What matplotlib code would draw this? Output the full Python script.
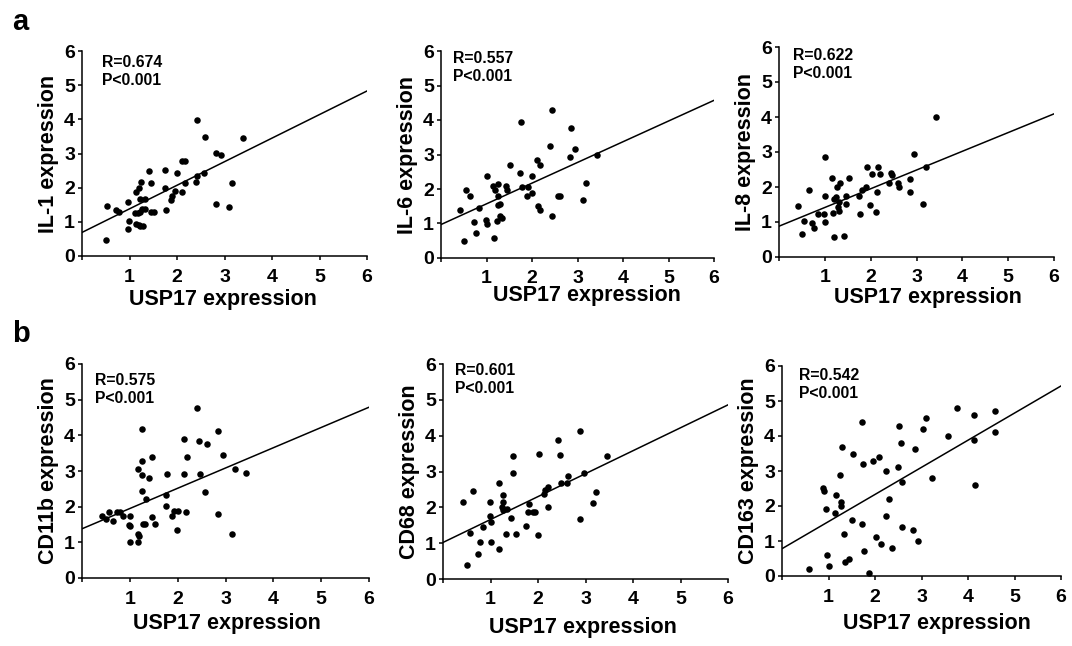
import numpy as np
import matplotlib
matplotlib.use('Agg')
import matplotlib.pyplot as plt

plt.rcParams['font.family'] = ['Liberation Sans', 'DejaVu Sans']
plt.rcParams['font.weight'] = 'bold'

# panel a
il1_x = [0.50, 0.53, 0.72, 0.78, 0.97, 0.99, 0.97, 1.14, 1.19, 1.23, 1.28, 1.11, 1.18, 1.23, 1.26, 1.32,
         1.23, 1.32, 1.14, 1.19, 1.24, 1.40, 1.46, 1.46, 1.52, 1.74, 1.75, 1.76, 1.88, 1.90, 1.96, 2.00,
         2.10, 2.11, 2.17, 2.17, 2.39, 2.43, 2.43, 2.56, 2.58, 2.83, 2.92, 2.83, 3.10, 3.16, 3.39]
il1_y = [0.47, 1.47, 1.34, 1.30, 1.57, 1.03, 0.79, 0.95, 0.91, 0.88, 0.88, 1.27, 1.25, 1.30, 1.39, 1.39,
         1.68, 1.68, 1.88, 1.98, 2.17, 2.48, 2.14, 1.28, 1.28, 2.51, 1.98, 1.36, 1.64, 1.76, 1.91, 2.44,
         1.86, 2.78, 2.78, 2.14, 2.17, 2.35, 3.97, 2.44, 3.49, 3.02, 2.97, 1.52, 1.44, 2.14, 3.44]

il6_x = [0.41, 0.50, 0.55, 0.63, 0.72, 0.78, 0.84, 1.00, 0.99, 1.00, 1.16, 1.14, 1.18, 1.22, 1.25, 1.25,
         1.25, 1.30, 1.29, 1.33, 1.43, 1.45, 1.52, 1.74, 1.76, 1.78, 1.91, 1.89, 1.99, 2.01, 2.11, 2.13,
         2.17, 2.18, 2.40, 2.45, 2.45, 2.58, 2.62, 2.84, 2.86, 2.95, 3.12, 3.19, 3.43]
il6_y = [1.38, 0.48, 1.98, 1.81, 1.03, 0.72, 1.45, 2.37, 1.11, 0.99, 0.58, 2.08, 1.98, 1.06, 2.14, 1.81,
         1.55, 1.57, 1.21, 1.16, 2.08, 1.98, 2.71, 2.46, 3.94, 2.05, 2.05, 1.79, 1.88, 2.37, 2.83, 1.50,
         1.40, 2.69, 3.24, 4.30, 1.23, 1.79, 1.79, 2.93, 3.77, 3.16, 1.67, 2.17, 2.99]

il8_x = [0.42, 0.51, 0.55, 0.65, 0.72, 0.77, 0.86, 0.99, 1.00, 1.00, 1.01, 1.15, 1.17, 1.21, 1.19, 1.24,
         1.26, 1.28, 1.30, 1.31, 1.34, 1.42, 1.47, 1.47, 1.53, 1.75, 1.77, 1.80, 1.90, 1.92, 1.99, 2.03,
         2.11, 2.13, 2.17, 2.20, 2.41, 2.45, 2.46, 2.59, 2.62, 2.86, 2.85, 2.95, 3.14, 3.20, 3.43]
il8_y = [1.45, 0.67, 1.03, 1.91, 0.96, 0.84, 1.22, 1.22, 2.87, 1.75, 1.00, 2.27, 1.26, 0.57, 1.67, 1.72,
         2.01, 1.43, 1.58, 1.32, 2.10, 0.59, 1.75, 1.51, 2.27, 1.75, 1.22, 1.91, 2.01, 2.58, 1.48, 2.37,
         1.29, 1.86, 2.58, 2.37, 2.10, 2.39, 2.33, 2.10, 2.01, 2.22, 1.86, 2.94, 1.51, 2.58, 3.99]

# panel b
cd11b_x = [0.42, 0.51, 0.56, 0.65, 0.73, 0.80, 0.86, 1.00, 0.98, 1.00, 1.00, 1.17, 1.17, 1.19, 1.17, 1.25,
           1.25, 1.25, 1.25, 1.28, 1.32, 1.33, 1.41, 1.47, 1.46, 1.53, 1.75, 1.76, 1.78, 1.89, 1.92, 1.99,
           2.01, 2.13, 2.13, 2.18, 2.20, 2.41, 2.45, 2.46, 2.58, 2.62, 2.85, 2.85, 2.95, 3.14, 3.19, 3.42]
cd11b_y = [1.73, 1.65, 1.84, 1.59, 1.84, 1.84, 1.73, 1.73, 1.49, 1.45, 1.00, 3.05, 1.23, 1.17, 1.02, 4.17,
           3.28, 2.89, 2.44, 1.51, 1.51, 2.21, 2.80, 3.38, 1.70, 1.51, 2.01, 2.33, 2.92, 1.75, 1.87, 1.34,
           1.89, 3.89, 2.92, 1.85, 3.40, 4.78, 3.84, 2.92, 2.40, 3.75, 4.13, 1.79, 3.45, 1.23, 3.05, 2.94]

cd68_x = [0.42, 0.51, 0.56, 0.64, 0.73, 0.78, 0.85, 0.99, 0.99, 1.01, 1.01, 1.17, 1.18, 1.26, 1.26, 1.24,
          1.27, 1.34, 1.33, 1.43, 1.47, 1.48, 1.54, 1.75, 1.78, 1.80, 1.90, 1.94, 2.00, 2.03, 2.13, 2.15,
          2.20, 2.20, 2.43, 2.47, 2.49, 2.60, 2.64, 2.88, 2.88, 2.97, 3.16, 3.23, 3.45]
cd68_y = [2.14, 0.38, 1.27, 2.46, 0.71, 1.03, 1.46, 2.14, 1.75, 1.58, 1.02, 2.67, 0.85, 2.34, 2.15, 2.01,
          1.93, 1.95, 1.26, 1.71, 2.97, 3.42, 1.26, 1.47, 1.86, 2.09, 1.87, 1.88, 1.22, 3.50, 2.38, 2.47,
          2.56, 2.02, 3.89, 3.45, 2.68, 2.67, 2.88, 4.12, 1.67, 2.95, 2.12, 2.42, 3.44]

cd163_x = [0.57, 0.89, 0.90, 0.95, 0.96, 1.02, 1.16, 1.15, 1.25, 1.26, 1.27, 1.29, 1.34, 1.36, 1.45, 1.50,
           1.52, 1.72, 1.73, 1.74, 1.77, 1.87, 1.95, 2.02, 2.09, 2.12, 2.24, 2.24, 2.30, 2.37, 2.49, 2.51,
           2.56, 2.57, 2.57, 2.82, 2.87, 2.92, 3.03, 3.10, 3.22, 3.58, 3.76, 4.12, 4.12, 4.15, 4.57, 4.57]
cd163_y = [0.21, 2.51, 2.42, 1.91, 0.60, 0.30, 2.31, 1.81, 2.90, 2.11, 2.01, 3.70, 1.21, 0.40, 0.50, 1.60,
           3.50, 1.50, 4.41, 3.21, 0.71, 0.10, 3.30, 1.11, 3.41, 0.91, 3.01, 1.71, 2.21, 0.81, 3.11, 4.30,
           3.81, 2.70, 1.41, 1.31, 3.62, 1.01, 4.21, 4.51, 2.81, 4.01, 4.81, 4.61, 3.90, 2.61, 4.71, 4.11]

markers = ['IL-1', 'IL-6', 'IL-8', 'CD11b', 'CD68', 'CD163']
r_values = ['0.674', '0.557', '0.622', '0.575', '0.601', '0.542']
intercepts = [0.69, 0.97, 0.88, 1.38, 1.02, 0.78]
slopes = [0.69, 0.60, 0.535, 0.568, 0.64, 0.775]

xs = [il1_x, il6_x, il8_x, cd11b_x, cd68_x, cd163_x]
ys = [il1_y, il6_y, il8_y, cd11b_y, cd68_y, cd163_y]

# axes boxes in pixels: left, right, top, bottom
W, H = 1072, 646
boxes = [(82, 367, 51, 256), (441, 714, 51, 258), (779, 1054, 47, 257),
         (82, 369, 364, 578), (443, 728, 364, 579), (782, 1061, 366, 576)]
text_pos = [(0.42, 5.88), (0.27, 6.0), (0.31, 5.98), (0.27, 5.75), (0.26, 6.02), (0.36, 5.94)]
# x label centre (pixels) and its vertical drop below the axis
xlab_x = [223, 587, 928, 227, 583, 937]
xlab_drop = [44, 38, 41, 45, 49, 47]

fig = plt.figure(figsize=(W / 100, H / 100), dpi=100)

for i in range(6):
    l, r, t, b = boxes[i]
    ax = fig.add_axes([l / W, 1 - b / H, (r - l) / W, (b - t) / H])
    ax.scatter(xs[i], ys[i], s=22, color='black', zorder=3, linewidths=0)
    lx = np.array([0, 6])
    ax.plot(lx, intercepts[i] + slopes[i] * lx, color='black', lw=1.1)
    ax.set_xlim(0, 6)
    ax.set_ylim(0, 6)
    ax.set_xticks(range(0, 7))
    ax.set_xticklabels([''] + [str(k) for k in range(1, 7)])
    ax.set_yticks(range(0, 7))
    ax.spines['top'].set_visible(False)
    ax.spines['right'].set_visible(False)
    ax.spines['left'].set_linewidth(1.1)
    ax.spines['bottom'].set_linewidth(1.1)
    ax.tick_params(direction='out', length=3, width=1.1, labelsize=14)
    ax.tick_params(axis='x', pad=6)
    ax.tick_params(axis='y', pad=2)
    for lab in ax.get_xticklabels() + ax.get_yticklabels():
        lab.set_fontweight('bold')
    ax.set_xlabel('USP17 expression', fontsize=15.5, fontweight='bold')
    ax.xaxis.set_label_coords((xlab_x[i] - l) / (r - l), -xlab_drop[i] / (b - t))
    ax.xaxis.label.set_va('center')
    ax.set_ylabel(markers[i] + ' expression', fontsize=15.5, fontweight='bold', labelpad=4)
    tx, ty = text_pos[i]
    ax.text(tx, ty, 'R=' + r_values[i] + '\nP<0.001', fontsize=11.3, fontweight='bold',
            va='top', ha='left', linespacing=1.25)

fig.text(12 / W, 1 - 22 / H, 'a', fontsize=21, fontweight='bold', va='center')
fig.text(12 / W, 1 - 334 / H, 'b', fontsize=21, fontweight='bold', va='center')

plt.savefig('out.png', dpi=100)
